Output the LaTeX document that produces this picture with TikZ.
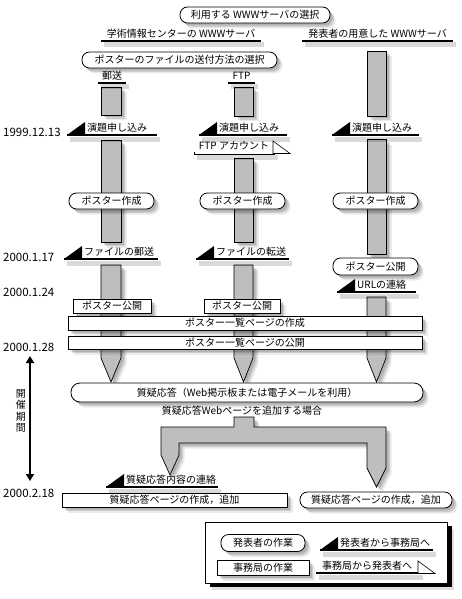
\documentclass[tikz,border=0pt]{standalone}
\usepackage{fontspec}
\setmainfont{Noto Sans CJK JP}
\usetikzlibrary{shadows,arrows.meta}
\definecolor{barg}{RGB}{190,190,190}
\newcommand{\sendmark}[5]{% name, x0, x1, y, text
  \fill[black] (#2,#4) -- (#2+18,#4-13) -- (#2+18,#4) -- cycle;
  \draw[uline] (#2,#4) -- (#3,#4);
  \node[lbl,anchor=base west] (#1) at (#2+20,#4-3.5) {#5};
}
\tikzset{
  softshadow/.style={
    drop shadow={shadow xshift=2.5pt,shadow yshift=-2.5pt,opacity=.13,fill=black},
    drop shadow={shadow xshift=4pt,shadow yshift=-4pt,opacity=.12,fill=black},
    drop shadow={shadow xshift=5.5pt,shadow yshift=-5.5pt,opacity=.08,fill=black}},
  lbl/.style={inner sep=0pt,font=\fontsize{10}{12}\selectfont},
  datelbl/.style={inner sep=0pt,font=\fontsize{11.5}{13}\selectfont},
  pbox/.style={draw,fill=white,rounded corners=7.5pt,line width=.8pt,inner sep=0pt,
    font=\fontsize{10}{12}\selectfont,softshadow},
  obox/.style={draw,fill=white,line width=.8pt,inner sep=0pt,
    font=\fontsize{10}{12}\selectfont,softshadow},
  bar/.style={draw,fill=barg,line width=.7pt,softshadow},
  uline/.style={line width=2pt,
    preaction={draw=black,opacity=.15,line width=5pt,transform canvas={shift={(3pt,-4pt)}}}},
}
\begin{document}
\begin{tikzpicture}[x=1pt,y=-1pt]
\useasboundingbox (0,0) rectangle (462,599);
\fill[white] (0,0) rectangle (462,599);

% ---- column bars
\draw[bar] (101,87) rectangle (121,115);
\draw[bar] (101,140) rectangle (121,242);
\draw[bar] (101,265) -- (121,265) -- (121,358) -- (111,382) -- (101,358) -- cycle;
\draw[bar] (234,87) rectangle (253,116);
\draw[bar] (234,158) rectangle (253,242);
\draw[bar] (234,265) -- (253,265) -- (253,358) -- (243.5,382) -- (234,358) -- cycle;
\draw[bar] (367,51) rectangle (386,116);
\draw[bar] (367,139) rectangle (386,254);
\draw[bar] (367,297) -- (386,297) -- (386,358) -- (376.5,382) -- (367,358) -- cycle;
% ---- fork
\draw[bar] (234,417) -- (254,417) -- (254,427) -- (386,427) -- (386,468) -- (376.5,487)
  -- (367,468) -- (367,443) -- (179,443) -- (179,455) -- (170,475) -- (161,455)
  -- (161,427) -- (234,427) -- cycle;

% ---- top
\node[pbox,minimum width=150pt,minimum height=16pt] (sel) at (255,15) {利用する WWWサーバの選択};
\node[lbl,anchor=base] (nii) at (181,37.5) {学術情報センターの WWWサーバ};
\draw[uline] (101,41) -- (261,41);
\node[lbl,anchor=base] (own) at (377.5,37.5) {発表者の用意した WWWサーバ};
\draw[uline] (302,41) -- (453,41);
\node[pbox,minimum width=195pt,minimum height=16pt] (method) at (179.5,60) {ポスターのファイルの送付方法の選択};
\node[lbl,anchor=base] (post) at (112,79.5) {郵送};
\draw[uline] (98,83) -- (126,83);
\node[lbl,anchor=base] (ftp) at (241.5,79.5) {FTP};
\draw[uline] (228,83) -- (255,83);

% ---- dates
\node[datelbl,anchor=base west] (d1) at (3,136) {1999.12.13};
\node[datelbl,anchor=base west] (d2) at (3,261) {2000.1.17};
\node[datelbl,anchor=base west] (d3) at (3,296) {2000.1.24};
\node[datelbl,anchor=base west] (d4) at (3,351) {2000.1.28};
\node[datelbl,anchor=base west] (d5) at (3,497) {2000.2.18};

% ---- submissions
\sendmark{sub1}{67}{157}{135}{演題申し込み}
\sendmark{sub2}{199}{287}{135}{演題申し込み}
\sendmark{sub3}{332}{419}{135}{演題申し込み}

% ---- FTP account (office -> presenter)
\draw[line width=3pt,preaction={draw=black,opacity=.15,line width=5pt,transform canvas={shift={(3pt,-4pt)}}}] (194,153) -- (275,153);
\draw[line width=1.2pt,white] (195,153) -- (275,153);
\node[lbl,anchor=base] (acc) at (234,149.5) {FTP アカウント};
\filldraw[fill=white,line width=.6pt] (273,141) -- (290,153.5) -- (273,153.5) -- cycle;

% ---- poster making
\node[pbox,minimum width=85pt,minimum height=16pt] (mk1) at (111.5,201) {ポスター作成};
\node[pbox,minimum width=85pt,minimum height=16pt] (mk2) at (242.5,201) {ポスター作成};
\node[pbox,minimum width=85pt,minimum height=16pt] (mk3) at (375.5,201) {ポスター作成};

% ---- files
\sendmark{fl1}{64}{158}{259}{ファイルの郵送}
\sendmark{fl2}{196}{289}{259}{ファイルの転送}
\node[pbox,minimum width=85pt,minimum height=17pt] (pub3) at (375.5,266.5) {ポスター公開};
\sendmark{url}{337}{416}{292}{URLの連絡}

% ---- office tasks
\node[obox,minimum width=78pt,minimum height=14pt] (pub1) at (112,306) {ポスター公開};
\node[obox,minimum width=76pt,minimum height=14pt] (pub2) at (242,306) {ポスター公開};
\node[obox,minimum width=354pt,minimum height=14pt] (list1) at (245,323) {ポスター一覧ページの作成};
\node[obox,minimum width=354pt,minimum height=13pt] (list2) at (245,342.5) {ポスター一覧ページの公開};

% ---- period
\coordinate (pa) at (30,356);
\coordinate (pb) at (30,481);
\draw[line width=1.8pt,{Triangle[length=7pt,width=8pt]}-{Triangle[length=7pt,width=8pt]}] (pa) -- (pb);
\node[inner sep=0pt,align=center,font=\fontsize{10}{11.5}\selectfont] (kaisai) at (21,411) {開\\催\\期\\間};

% ---- Q&A
\node[pbox,minimum width=352pt,minimum height=19pt,rounded corners=9pt] (qa) at (247,392.5) {質疑応答（Web掲示板または電子メールを利用）};
\node[lbl] (qaweb) at (242,411) {質疑応答Webページを追加する場合};
\sendmark{qac}{106}{218}{487}{質疑応答内容の連絡}
\node[obox,minimum width=225pt,minimum height=14pt] (qao) at (174.5,500) {質疑応答ページの作成，追加};
\node[pbox,minimum width=152pt,minimum height=16pt] (qap) at (376,500) {質疑応答ページの作成，追加};

% ---- legend
\node[draw,fill=white,line width=.8pt,inner sep=0pt,minimum width=242pt,minimum height=61pt,
  drop shadow={shadow xshift=7pt,shadow yshift=-7pt,opacity=.12,fill=black},
  drop shadow={shadow xshift=5pt,shadow yshift=-4pt,opacity=1,fill=black}] (leg) at (326,552.5) {};
\node[pbox,minimum width=84pt,minimum height=17pt,drop shadow={opacity=0}] (lp) at (263,543) {発表者の作業};
\node[obox,minimum width=92pt,minimum height=15pt,drop shadow={opacity=0}] (lo) at (263,567.5) {事務局の作業};
\sendmark{ls}{320}{433}{550}{発表者から事務局へ}
\draw[uline] (316,573) -- (420,573);
\node[lbl,anchor=base] (lr) at (367,569.5) {事務局から発表者へ};
\filldraw[fill=white,line width=.6pt] (418,561) -- (435,573.5) -- (418,573.5) -- cycle;
\end{tikzpicture}
\end{document}
